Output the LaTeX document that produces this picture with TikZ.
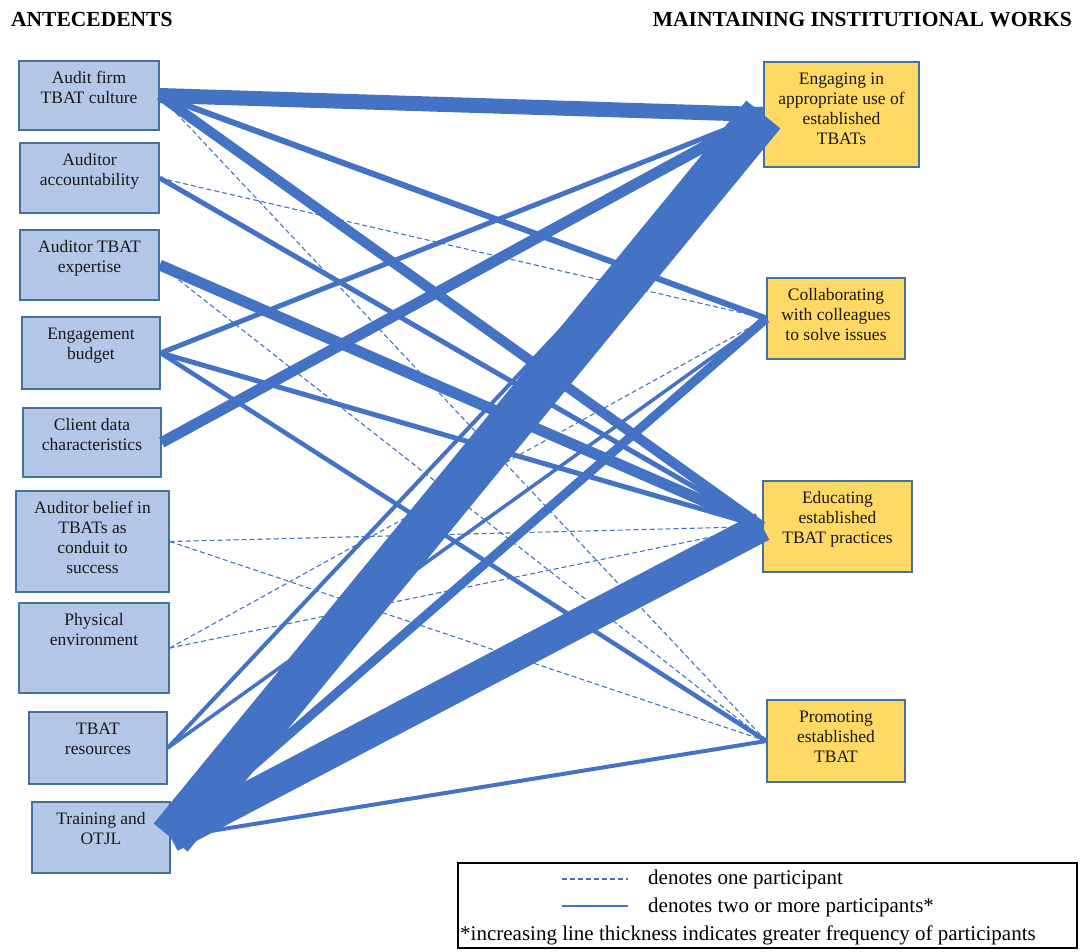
\documentclass[tikz,border=0pt]{standalone}
\usepackage{fontspec}
\setmainfont{Liberation Serif}
\usepackage{tikz}
\usepackage{xcolor}

\definecolor{linkblue}{HTML}{4472C4}
\definecolor{antefill}{HTML}{B4C7E7}
\definecolor{workfill}{HTML}{FFD966}
\definecolor{boxline}{HTML}{41719C}

\newcommand{\boxtext}[3]{%
	\begin{minipage}[t][#2][t]{#1}
		\centering\rule{0pt}{22pt}#3
	\end{minipage}}

\begin{document}
\begin{tikzpicture}[x=1pt,y=-1pt,
		ante/.style={draw=boxline,line width=1.4pt,fill=antefill,inner sep=0pt,text=black!90,font=\fontsize{17.5}{20}\selectfont},
		work/.style={ante,fill=workfill},
		head/.style={inner sep=0pt,font=\bfseries\fontsize{21.5}{24}\selectfont},
		keytext/.style={anchor=base west,inner sep=0pt,font=\fontsize{21}{24}\selectfont},
		one/.style={linkblue,line width=1.1pt,dash pattern=on 5pt off 3pt},
		many/.style={linkblue,line width=#1},
	]
	\useasboundingbox (0,0) rectangle (1081,951);

	\node[head,anchor=base west] (antehead) at (11,26) {ANTECEDENTS};
	\node[head,anchor=base east] (workhead) at (1072,26) {MAINTAINING INSTITUTIONAL WORKS};

	% antecedents
	\node[ante] (audit) at (89,95.5) {\boxtext{140pt}{69pt}{Audit firm\\TBAT culture}};
	\node[ante] (acct) at (89.5,178) {\boxtext{139pt}{70pt}{Auditor\\accountability}};
	\node[ante] (expert) at (89.5,265) {\boxtext{139pt}{70pt}{Auditor TBAT\\expertise}};
	\node[ante] (budget) at (91,353) {\boxtext{138pt}{72pt}{Engagement\\budget}};
	\node[ante] (client) at (92,442.5) {\boxtext{138pt}{69pt}{Client data\\characteristics}};
	\node[ante] (belief) at (92.5,541.5) {\boxtext{153pt}{101pt}{Auditor belief in\\TBATs as\\conduit to\\success}};
	\node[ante] (phys) at (94,648) {\boxtext{150pt}{90pt}{Physical\\environment}};
	\node[ante] (res) at (98,748) {\boxtext{138pt}{72pt}{TBAT\\resources}};
	\node[ante] (train) at (101,837.5) {\boxtext{138pt}{71pt}{Training and\\OTJL}};

	% maintaining works
	\node[work] (engage) at (841.5,114.5) {\boxtext{155pt}{105pt}{Engaging in\\appropriate use of\\established\\TBATs}};
	\node[work] (collab) at (836,318.5) {\boxtext{138pt}{81pt}{Collaborating\\with colleagues\\to solve issues}};
	\node[work] (educ) at (837.5,526.5) {\boxtext{149pt}{91pt}{Educating\\established\\TBAT practices}};
	\node[work] (promo) at (836,741) {\boxtext{138pt}{82pt}{Promoting\\established\\TBAT}};

	% one participant
	\draw[one] (audit.east) -- (promo.west);
	\draw[one] (acct.east) -- (collab.west);
	\draw[one] (expert.east) -- (promo.west);
	\draw[one] (belief.east) -- (educ.west);
	\draw[one] (belief.east) -- (promo.west);
	\draw[one] (phys.east) -- (collab.west);
	\draw[one] (phys.east) -- (educ.west);

	% two or more participants
	\draw[many=15pt] (audit.east) -- (engage.west);
	\draw[many=6pt] (audit.east) -- (collab.west);
	\draw[many=10pt] (audit.east) -- (educ.west);
	\draw[many=5pt] (acct.east) -- (educ.west);
	\draw[many=11pt] (expert.east) -- (educ.west);
	\draw[many=5pt] (budget.east) -- (engage.west);
	\draw[many=5pt] (budget.east) -- (educ.west);
	\draw[many=4.5pt] (budget.east) -- (promo.west);
	\draw[many=11pt] (client.east) -- (engage.west);
	\draw[many=4pt] (res.east) -- (engage.west);
	\draw[many=3.5pt] (res.east) -- (collab.west);
	\draw[many=44pt] (train.east) -- (engage.west);
	\draw[many=9pt] (train.east) -- (collab.west);
	\draw[many=30pt] (train.east) -- (educ.west);
	\draw[many=4pt] (train.east) -- (promo.west);

	% key
	\node[draw,line width=1.5pt,minimum width=619pt,minimum height=85pt,inner sep=0pt,anchor=north west] (key) at (457,862) {};
	\node[keytext] (onetext) at (648,884) {denotes one participant};
	\node[keytext] (manytext) at (648,912) {denotes two or more participants*};
	\node[keytext] (note) at (460,940) {*increasing line thickness indicates greater frequency of participants};
	\coordinate (onea) at (562,879);
	\coordinate (oneb) at (628,879);
	\coordinate (manya) at (562,906);
	\coordinate (manyb) at (628,906);
	\draw[one] (onea) -- (oneb);
	\draw[many=1.5pt] (manya) -- (manyb);
\end{tikzpicture}
\end{document}
